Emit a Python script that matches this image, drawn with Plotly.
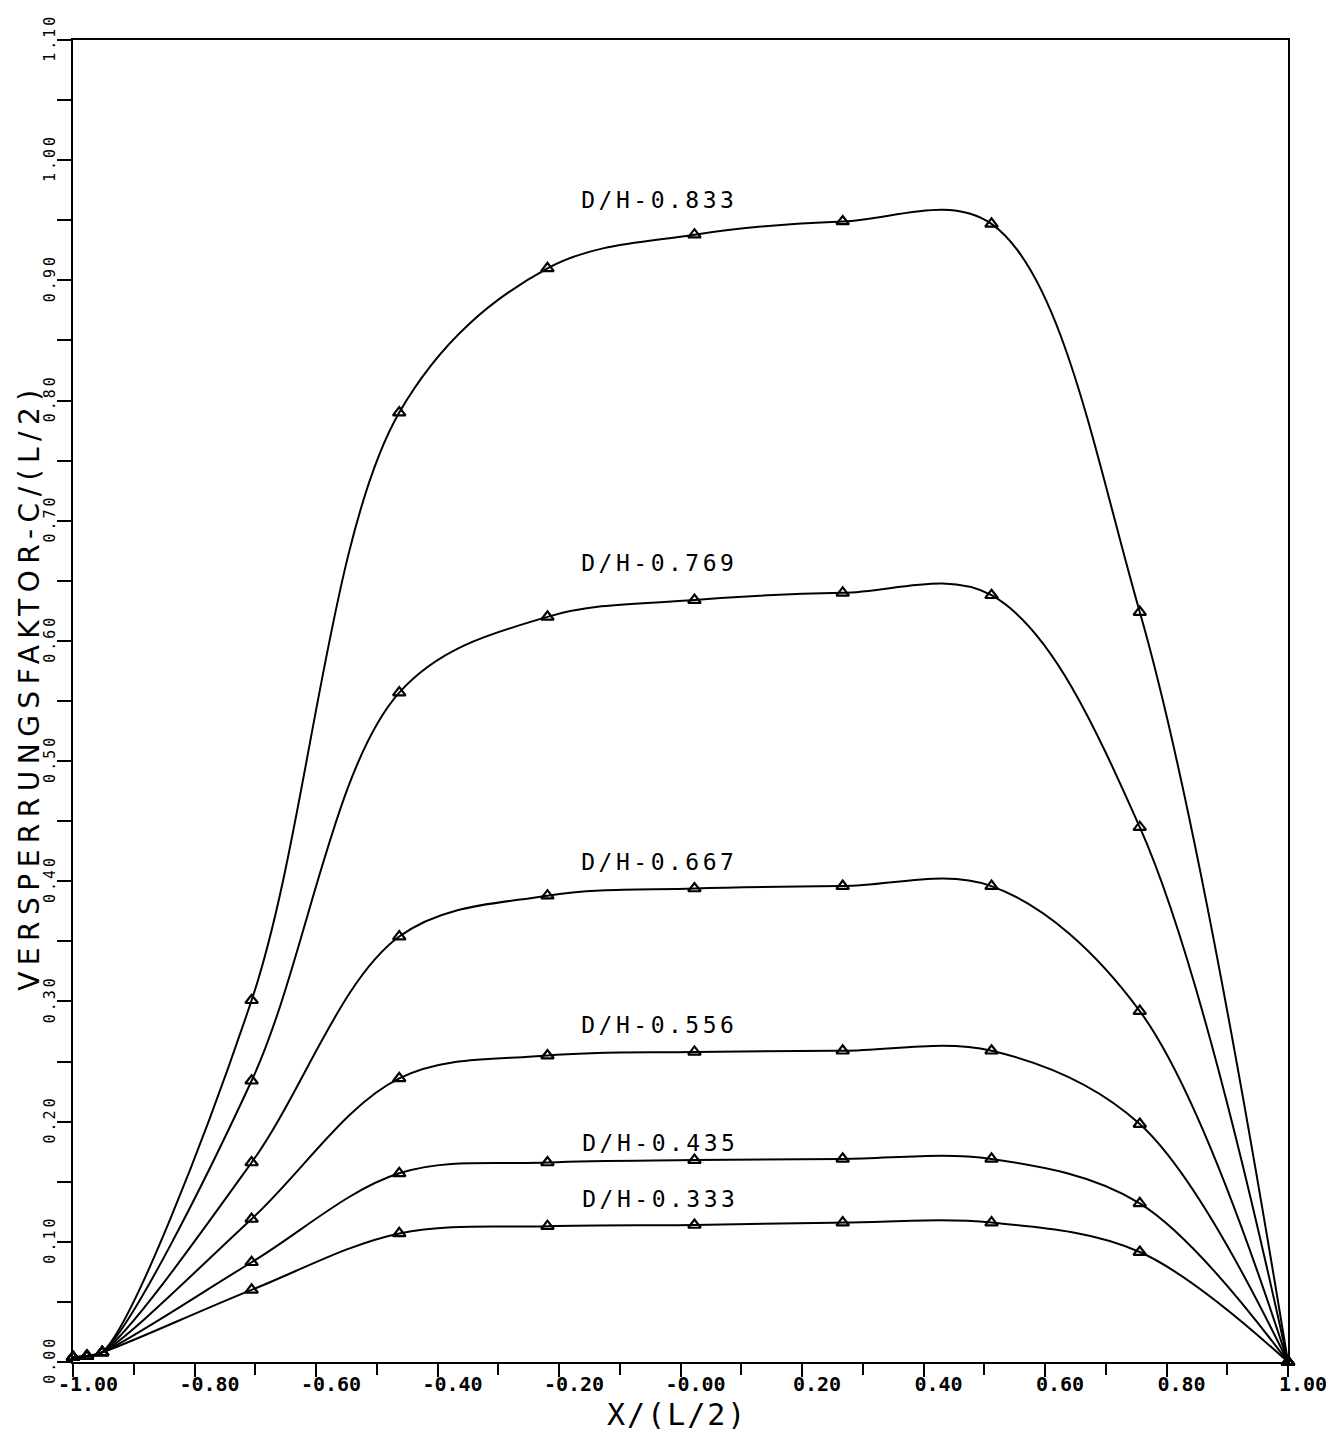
import numpy as np
import plotly.graph_objects as go

# ---- data ----
X_POS = [-1.0, -0.977, -0.952, -0.706, -0.463, -0.219, 0.023, 0.267, 0.512, 0.756, 1.0]

Y_833 = [0.004, 0.005, 0.008, 0.301, 0.790, 0.910, 0.938, 0.949, 0.947, 0.624, 0.0]
Y_769 = [0.004, 0.005, 0.008, 0.234, 0.557, 0.620, 0.634, 0.640, 0.638, 0.445, 0.0]
Y_667 = [0.004, 0.005, 0.008, 0.166, 0.354, 0.388, 0.394, 0.396, 0.396, 0.292, 0.0]
Y_556 = [0.004, 0.005, 0.008, 0.119, 0.236, 0.255, 0.258, 0.259, 0.259, 0.198, 0.0]
Y_435 = [0.004, 0.005, 0.008, 0.083, 0.157, 0.166, 0.168, 0.169, 0.169, 0.132, 0.0]
Y_333 = [0.004, 0.005, 0.008, 0.060, 0.107, 0.113, 0.114, 0.116, 0.116, 0.0915, 0.0]

SERIES_NAMES = ["D/H-0.833", "D/H-0.769", "D/H-0.667", "D/H-0.556", "D/H-0.435", "D/H-0.333"]
SERIES_VALUES = [Y_833, Y_769, Y_667, Y_556, Y_435, Y_333]

# label anchor positions (data coords)
LABEL_X = [-0.035, -0.035, -0.035, -0.035, -0.033, -0.033]
LABEL_Y = [0.967, 0.665, 0.416, 0.280, 0.182, 0.136]

X_TICKS = [-1.0, -0.8, -0.6, -0.4, -0.2, 0.0, 0.2, 0.4, 0.6, 0.8, 1.0]
X_TICK_LABELS = ["-1.00", "-0.80", "-0.60", "-0.40", "-0.20", "-0.00",
                 "0.20", "0.40", "0.60", "0.80", "1.00"]
Y_TICKS = [0.0, 0.1, 0.2, 0.3, 0.4, 0.5, 0.6, 0.7, 0.8, 0.9, 1.0, 1.1]
Y_TICK_LABELS = ["0.00", "0.10", "0.20", "0.30", "0.40", "0.50",
                 "0.60", "0.70", "0.80", "0.90", "1.00", "1.10"]

X_TITLE = "X/(L/2)"
Y_TITLE = "VERSPERRUNGSFAKTOR-C/(L/2)"

MONO = "DejaVu Sans Mono"
SANS = "DejaVu Sans"

fig = go.Figure()
for name, ys in zip(SERIES_NAMES, SERIES_VALUES):
    fig.add_trace(go.Scatter(
        x=X_POS, y=ys, name=name, mode="lines+markers",
        line=dict(color="black", width=2, shape="spline", smoothing=1.0),
        marker=dict(symbol="triangle-up-open", size=11, color="black",
                    line=dict(color="black", width=2.2)),
        cliponaxis=False, showlegend=False,
    ))

for name, lx, ly in zip(SERIES_NAMES, LABEL_X, LABEL_Y):
    fig.add_annotation(x=lx, y=ly, xref="x", yref="y", text=name, showarrow=False,
                       font=dict(family=MONO, size=23, color="black"),
                       xanchor="center", yanchor="middle")

fig.add_annotation(x=0.4975, y=-0.0395, xref="paper", yref="paper", text=X_TITLE,
                   showarrow=False, font=dict(family=MONO, size=30, color="black"),
                   xanchor="center", yanchor="middle")
fig.add_annotation(x=-0.0355, y=0.511, xref="paper", yref="paper", text=Y_TITLE,
                   showarrow=False, textangle=-90,
                   font=dict(family=SANS, size=28, color="black"),
                   xanchor="center", yanchor="middle")

fig.update_layout(
    width=1341, height=1432,
    margin=dict(l=73, r=53, t=40, b=70),
    paper_bgcolor="white", plot_bgcolor="white",
    xaxis=dict(
        range=[-1.0, 1.0], showgrid=False, zeroline=False,
        showline=True, linecolor="black", linewidth=2, mirror=True,
        tickmode="array", tickvals=X_TICKS, ticktext=X_TICK_LABELS,
        ticks="outside", ticklen=13, tickwidth=2, tickcolor="black",
        ticklabelshift=15, ticklabelstandoff=-10,
        tickfont=dict(family=MONO, size=20, color="black", weight="bold"),
        minor=dict(tickmode="linear", tick0=-1.0, dtick=0.1, ticks="outside",
                   ticklen=11, tickwidth=2, tickcolor="black"),
    ),
    yaxis=dict(
        range=[0.0, 1.1], showgrid=False, zeroline=False,
        showline=True, linecolor="black", linewidth=2, mirror=True,
        tickmode="array", tickvals=Y_TICKS, ticktext=Y_TICK_LABELS,
        ticks="outside", ticklen=6, tickwidth=2, tickcolor="black",
        tickangle=-90, ticklabelstandoff=4,
        tickfont=dict(family=MONO, size=15, color="black"),
        minor=dict(tickmode="linear", tick0=0.0, dtick=0.05, ticks="outside",
                   ticklen=14, tickwidth=2, tickcolor="black"),
    ),
)

# plotter-style wide letter spacing for the hand-lettered texts
POST_JS = """
var gd = document.getElementById('{plot_id}');
gd.querySelectorAll('text.annotation-text').forEach(function(t){
  var s = t.textContent;
  if (s.indexOf('D/H') === 0) { t.style.letterSpacing = '3.5px'; }
  else if (s.indexOf('VERSP') === 0) { t.style.letterSpacing = '6.5px'; }
  else if (s.indexOf('X/') === 0) { t.style.letterSpacing = '2px'; }
});
gd.querySelectorAll('g.ytick text').forEach(function(t){ t.style.letterSpacing = '3px'; });
"""

fig.write_html("out.html", post_script=POST_JS)
